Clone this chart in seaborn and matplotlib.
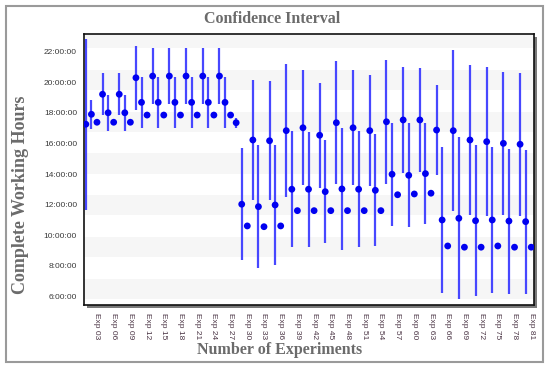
import numpy as np
import pandas as pd
import matplotlib
matplotlib.use("Agg")
import matplotlib.pyplot as plt
import seaborn as sns
from matplotlib.patches import Rectangle

# ---------------- data ----------------
experiments = [f"Exp {i:02d}" for i in range(1, 82)]

mean_hours = [
    17.26, 17.91, 17.39,
    19.22, 18.01, 17.39,
    19.22, 18.01, 17.39,
    20.30, 18.69, 17.86,
    20.41, 18.69, 17.86,
    20.41, 18.69, 17.86,
    20.41, 18.69, 17.86,
    20.41, 18.69, 17.86,
    20.41, 18.69, 17.86,
    17.36, 12.03, 10.61,
    16.23, 11.87, 10.56,
    16.18, 11.98, 10.61,
    16.84, 13.01, 11.61,
    17.03, 13.01, 11.61,
    16.54, 12.85, 11.61,
    17.36, 13.03, 11.61,
    17.03, 13.01, 11.61,
    16.84, 12.94, 11.61,
    17.42, 13.99, 12.65,
    17.54, 13.92, 12.70,
    17.54, 14.03, 12.75,
    16.88, 11.00, 9.30,
    16.84, 11.11, 9.22,
    16.23, 10.95, 9.22,
    16.12, 11.00, 9.30,
    16.01, 10.93, 9.22,
    15.95, 10.89, 9.22,
]

ci_half_hours = [
    5.59, 0.95, 0,
    1.36, 1.16, 0,
    1.36, 1.16, 0,
    2.09, 1.65, 0,
    1.82, 1.65, 0,
    1.82, 1.65, 0,
    1.82, 1.65, 0,
    1.82, 1.65, 0,
    1.82, 1.65, 0,
    0.33, 3.65, 0,
    3.92, 4.01, 0,
    3.89, 3.92, 0,
    4.36, 3.78, 0,
    3.77, 3.77, 0,
    3.43, 3.38, 0,
    4.03, 4.00, 0,
    3.76, 3.78, 0,
    3.65, 3.65, 0,
    4.05, 3.38, 0,
    3.46, 3.41, 0,
    3.38, 3.32, 0,
    2.94, 4.79, 0,
    5.28, 5.29, 0,
    4.93, 4.92, 0,
    4.85, 4.79, 0,
    4.68, 4.74, 0,
    4.68, 4.71, 0,
]

x_tick_labels = experiments[2::3]
y_tick_hours = [6, 8, 10, 12, 14, 16, 18, 20, 22]
y_tick_labels = [f"{h}:00:00" for h in y_tick_hours]

df = pd.DataFrame({
    "exp": experiments,
    "pos": np.arange(len(experiments)),
    "mean": mean_hours,
    "half": ci_half_hours,
})

# ---------------- figure ----------------
sns.set_style("white")
W, H = 550, 372
fig = plt.figure(figsize=(W / 100, H / 100), dpi=100)
fig.patch.set_facecolor("white")

L, R, T, B = 84, 534, 34, 305
ax_rect = [L / W, 1 - B / H, (R - L) / W, (B - T) / H]

# drop shadow of the plot frame
fig.patches.append(Rectangle((ax_rect[0] + 3 / W, ax_rect[1] - 3 / H), ax_rect[2], ax_rect[3],
                             transform=fig.transFigure, facecolor="#7a7a7a",
                             edgecolor="none", zorder=0))
# outer border
fig.patches.append(Rectangle((6 / W, 1 - 362 / H), 537 / W, 356 / H,
                             transform=fig.transFigure, fill=False,
                             edgecolor="#9a9a9a", lw=1.5, zorder=0))

ax = fig.add_axes(ax_rect)
ax.set_facecolor("white")
ax.set_zorder(1)

ymin, ymax = 5.44, 23.16
# faint alternating background bands
for start in np.arange(5.84, ymax, 2.73):
    ax.axhspan(start, start + 1.33, color="#f6f6f6", zorder=0, lw=0)

bars = df[df["half"] > 0]
ax.errorbar(bars["pos"], bars["mean"], yerr=bars["half"], fmt="none",
            ecolor="#4747ff", elinewidth=1.6, capsize=0, zorder=2)
sns.scatterplot(data=df, x="pos", y="mean", ax=ax, color="#0000f0", s=24,
                edgecolor="none", zorder=3, legend=False)

ax.set_xlim(-0.33, 80.5)
ax.set_ylim(ymin, ymax)

ax.set_xticks(df["pos"].iloc[2::3])
ax.set_xticklabels(x_tick_labels, rotation=270, fontsize=6, color="#4a3444",
                   family="Liberation Sans")
ax.set_yticks(y_tick_hours)
ax.set_yticklabels(y_tick_labels, fontsize=6, color="#3a3a3a", family="Liberation Sans")
ax.tick_params(axis="x", direction="inout", length=10, width=0.9, color="#222222", pad=1)
ax.tick_params(axis="y", direction="inout", length=8, width=0.9, color="#555555", pad=1)
ax.set_xlabel("")
ax.set_ylabel("")

for s in ax.spines.values():
    s.set_color("#111111")
    s.set_linewidth(1.2)

label_kw = dict(family="Liberation Serif", fontweight="bold", color="#6b6b6b")
fig.text(272 / W, 1 - 19 / H, "Confidence Interval", ha="center", va="center",
         fontsize=11.5, **label_kw)
fig.text(280 / W, 1 - 350 / H, "Number of Experiments", ha="center", va="center",
         fontsize=11.5, **label_kw)
fig.text(21 / W, 1 - 195 / H, "Complete Working Hours", ha="center", va="center",
         rotation=90, fontsize=13, **label_kw)

fig.savefig("out.png", dpi=100)
